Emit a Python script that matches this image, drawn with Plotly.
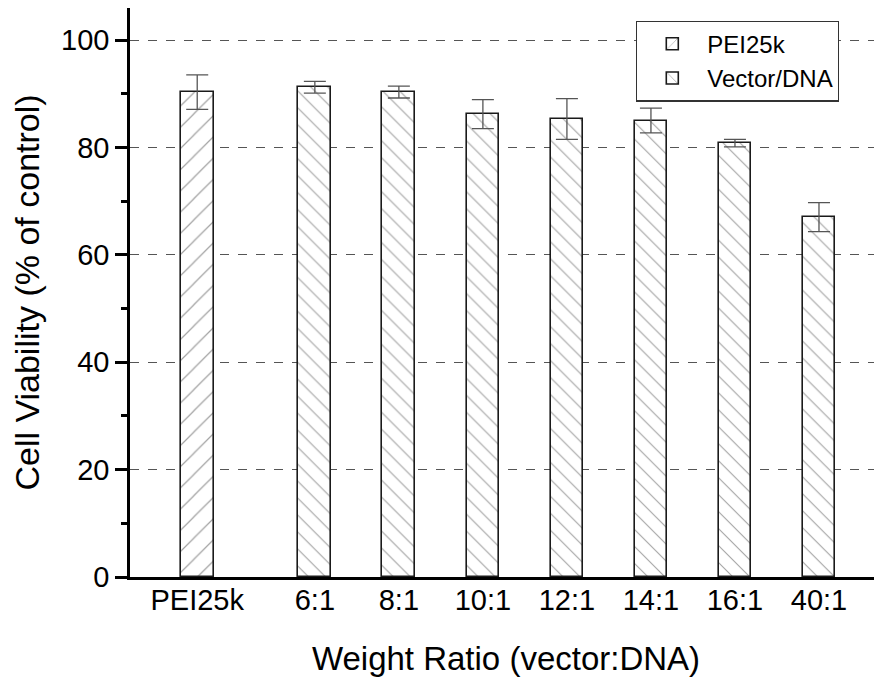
import plotly.graph_objects as go

categories = ["PEI25k", "6:1", "8:1", "10:1", "12:1", "14:1", "16:1", "40:1"]
pei_value = [90.3]
pei_error = [3.2]
vector_values = [91.2, 90.3, 86.2, 85.3, 85.0, 80.8, 67.0]
vector_errors = [1.1, 1.1, 2.7, 3.8, 2.3, 0.7, 2.7]

# x positions: PEI25k separated from the vector/DNA group by a small extra gap
x_pos = [0.0] + [i + 0.4 for i in range(1, len(categories))]

font_family = "Liberation Sans, Arial, sans-serif"

fig = go.Figure()
fig.add_trace(go.Bar(
    x=x_pos[:1], y=pei_value, name="PEI25k", width=0.39,
    marker=dict(color="white", line=dict(color="#1a1a1a", width=1.6),
                pattern=dict(shape="/", size=15, solidity=0.08, fgcolor="#444444", bgcolor="white")),
    error_y=dict(type="data", array=pei_error, visible=True, color="#555555", thickness=1.3, width=11),
))
fig.add_trace(go.Bar(
    x=x_pos[1:], y=vector_values, name="Vector/DNA", width=0.39,
    marker=dict(color="white", line=dict(color="#1a1a1a", width=1.6),
                pattern=dict(shape="\\", size=12, solidity=0.09, fgcolor="#444444", bgcolor="white")),
    error_y=dict(type="data", array=vector_errors, visible=True, color="#555555", thickness=1.3, width=11),
))

fig.update_layout(
    width=874, height=669,
    margin=dict(l=122, r=0, t=0, b=100),
    plot_bgcolor="white", paper_bgcolor="white",
    font=dict(family=font_family, color="black", size=24),
    showlegend=True,
    legend=dict(x=0.673, y=0.978, xanchor="left", yanchor="top",
                bordercolor="#333333", borderwidth=1.2, bgcolor="white",
                font=dict(size=24, family=font_family), itemwidth=60,
                tracegroupgap=0),
    bargap=0,
)
fig.update_xaxes(
    range=[-0.8, 8.15],
    tickvals=x_pos, ticktext=categories,
    showline=True, linecolor="black", linewidth=2.5,
    ticks="", showgrid=False, zeroline=False,
    tickfont=dict(size=29), ticklabelstandoff=-5,
    title=dict(text="Weight Ratio (vector:DNA)", font=dict(size=33), standoff=35),
)
fig.update_yaxes(
    range=[0, 105.96],
    tickvals=[0, 20, 40, 60, 80, 100],
    showline=True, linecolor="black", linewidth=2.5,
    ticks="outside", ticklen=12, tickwidth=2.5, tickcolor="black",
    minor=dict(tickvals=[10, 30, 50, 70, 90], ticks="outside", ticklen=6, tickwidth=2.5, tickcolor="black"),
    showgrid=True, gridcolor="#555555", griddash="dash", gridwidth=1,
    zeroline=False,
    tickfont=dict(size=29),
    title=dict(text="Cell Viability (% of control)", font=dict(size=34), standoff=14),
)

fig.write_html("out.html")
